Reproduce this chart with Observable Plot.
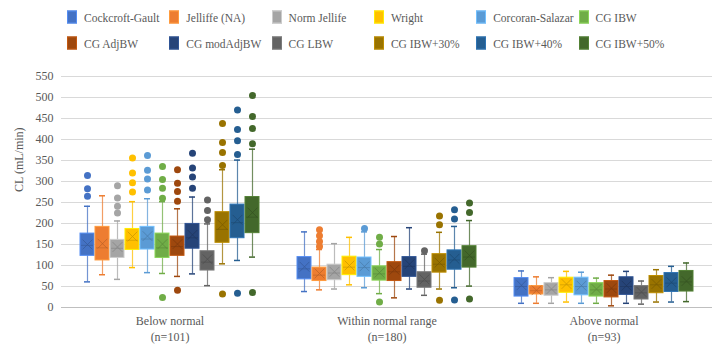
<!DOCTYPE html>
<html>
<head>
<meta charset="utf-8">
<script src="https://cdn.jsdelivr.net/npm/d3@7"></script>
<script src="https://cdn.jsdelivr.net/npm/@observablehq/plot@0.6"></script>
<style>
  body { margin: 0; background: white; font-family: 'Liberation Serif', 'Times New Roman', serif; }
  #legend { position: relative; width: 725px; height: 58px; }
  .item { position: absolute; display: flex; align-items: center; font-size: 11.5px; color: #595959; white-space: nowrap; transform: translateY(-50%); }
  .sw { width: 10px; height: 13px; margin-right: 7px; box-sizing: border-box; }
</style>
</head>
<body>
<div id="legend"></div>
<div id="chart"></div>
<script>
const series = ["Cockcroft-Gault","Jelliffe (NA)","Norm Jellife","Wright","Corcoran-Salazar","CG IBW","CG AdjBW","CG modAdjBW","CG LBW","CG IBW+30%","CG IBW+40%","CG IBW+50%"];
const colors = ["#4472C4","#ED7D31","#A5A5A5","#FFC000","#5B9BD5","#70AD47","#9E480E","#264478","#636363","#997300","#255E91","#43682B"];
const groups = ["Below normal","Within normal range","Above normal"];
const groupN = ["(n=101)","(n=180)","(n=93)"];
const yTicks = [0,50,100,150,200,250,300,350,400,450,500,550];

// Below normal
const belowLow    = [61, 78, 67, 95, 83, 81, 74, 80, 52, 104, 112, 120];
const belowQ1     = [123, 112, 118, 137, 138, 118, 123, 140, 88, 154, 165, 177];
const belowMedian = [148, 142, 141, 160, 163, 142, 145, 166, 108, 186, 202, 215];
const belowMean   = [150, 152, 144, 169, 170, 151, 151, 173, 115, 197, 209, 226];
const belowQ3     = [176, 192, 161, 187, 192, 176, 169, 199, 134, 227, 245, 263];
const belowHigh   = [241, 266, 206, 252, 259, 252, 235, 263, 199, 328, 351, 377];
const belowOut    = [[314,283,265],[],[290,261,241,225],[356,320,297,275],[362,327,306,280],[336,305,284,260,24],[328,296,276,253,41],[367,332,311,284],[256,231,209],[438,393,369,338,32],[470,424,397,364,34],[505,455,426,390,36]];

// Within normal range
const withinLow    = [38, 42, 44, 54, 47, 33, 23, 44, 29, 44, 47, 51];
const withinQ1     = [67, 63, 65, 77, 73, 64, 63, 73, 47, 83, 90, 95];
const withinMedian = [92, 77, 82, 96, 95, 80, 85, 98, 63, 103, 113, 120];
const withinMean   = [97, 81, 85, 100, 98, 83, 90, 103, 67, 107, 116, 124];
const withinQ3     = [120, 95, 102, 121, 119, 98, 108, 120, 84, 127, 136, 146];
const withinHigh   = [180, 138, 152, 167, 180, 138, 169, 190, 127, 179, 193, 207];
const withinOut    = [[],[185,171,157,145],[],[],[188],[167,151,13],[],[],[135],[218,197,17],[233,211,18],[249,226,20]];

// Above normal
const aboveLow    = [10, 10, 10, 13, 10, 10, 4, 10, 8, 13, 13, 14];
const aboveQ1     = [26, 31, 28, 35, 29, 26, 24, 30, 19, 34, 37, 38];
const aboveMedian = [50, 40, 42, 54, 50, 42, 44, 50, 35, 54, 58, 61];
const aboveMean   = [53, 41, 44, 56, 52, 44, 46, 52, 37, 56, 60, 63];
const aboveQ3     = [70, 51, 58, 71, 71, 58, 63, 72, 51, 75, 82, 87];
const aboveHigh   = [87, 73, 71, 86, 84, 70, 77, 86, 63, 90, 98, 106];
const aboveOut    = [[],[],[],[],[],[],[],[],[],[],[],[]];

const lows = [belowLow, withinLow, aboveLow];
const q1s = [belowQ1, withinQ1, aboveQ1];
const meds = [belowMedian, withinMedian, aboveMedian];
const means = [belowMean, withinMean, aboveMean];
const q3s = [belowQ3, withinQ3, aboveQ3];
const highs = [belowHigh, withinHigh, aboveHigh];
const outs = [belowOut, withinOut, aboveOut];

const dark = c => d3.color(c).darker(0.7).formatHex();
const light = c => d3.color(c).brighter(0.6).formatHex();

const rows = [];
const outRows = [];
groups.forEach((g, gi) => series.forEach((s, si) => {
  rows.push({group: g, series: s, color: colors[si], low: lows[gi][si], q1: q1s[gi][si], median: meds[gi][si], mean: means[gi][si], q3: q3s[gi][si], high: highs[gi][si]});
  outs[gi][si].forEach(v => outRows.push({group: g, series: s, color: colors[si], value: v}));
}));

// Legend
const legend = document.getElementById("legend");
series.forEach((s, i) => {
  const row = Math.floor(i / 6), col = i % 6;
  const el = document.createElement("div");
  el.className = "item";
  el.style.left = (67 + col * 102.3) + "px";
  el.style.top = (17 + row * 26) + "px";
  el.innerHTML = `<span class="sw" style="background:${colors[i]};border:1px solid ${light(colors[i])}"></span><span>${s}</span>`;
  legend.appendChild(el);
});

const chart = Plot.plot({
  width: 725,
  height: 291,
  marginTop: 18,
  marginBottom: 42,
  marginLeft: 60,
  marginRight: 12,
  style: {fontFamily: "'Liberation Serif', 'Times New Roman', serif", fontSize: "12px", color: "#595959", background: "white"},
  fx: {domain: groups, padding: 0, axis: null},
  x: {domain: series, paddingInner: 0.08, paddingOuter: 1.2, axis: null},
  y: {domain: [0, 550], ticks: yTicks, tickSize: 0, tickPadding: 8, label: null},
  marks: [
    Plot.ruleY(yTicks.filter(t => t > 0), {stroke: "#d9d9d9", strokeWidth: 1}),
    Plot.ruleY([0], {stroke: "#bfbfbf", strokeWidth: 1}),
    Plot.ruleX(rows, {fx: "group", x: "series", y1: "low", y2: "high", stroke: "color", strokeOpacity: 0.75, strokeWidth: 1.2}),
    Plot.tickY(rows, {fx: "group", x: "series", y: "low", stroke: "color", strokeWidth: 1.5, insetLeft: 4, insetRight: 4}),
    Plot.tickY(rows, {fx: "group", x: "series", y: "high", stroke: "color", strokeWidth: 1.5, insetLeft: 4, insetRight: 4}),
    Plot.barY(rows, {fx: "group", x: "series", y1: "q1", y2: "q3", fill: "color", stroke: d => light(d.color), strokeWidth: 1}),
    Plot.tickY(rows, {fx: "group", x: "series", y: "median", stroke: d => dark(d.color), strokeWidth: 1, strokeOpacity: 0.6, insetLeft: 1, insetRight: 1}),
    Plot.dot(rows, {fx: "group", x: "series", y: "mean", symbol: "times", r: 4.5, stroke: d => dark(d.color), strokeWidth: 1, strokeOpacity: 0.7}),
    Plot.dot(outRows, {fx: "group", x: "series", y: "value", r: 3.5, fill: "color", stroke: "none"}),
    Plot.text(groups, {fx: d => d, text: d => d, frameAnchor: "bottom", dy: 17, fontSize: 12, fill: "#595959"}),
    Plot.text(groups, {fx: d => d, text: (d, i) => groupN[i], frameAnchor: "bottom", dy: 33, fontSize: 12, fill: "#595959"}),
    Plot.text([groups[0]], {fx: d => d, text: () => "CL (mL/min)", frameAnchor: "left", rotate: -90, dx: -42, fontSize: 12, fill: "#595959"})
  ]
});
document.getElementById("chart").appendChild(chart);
</script>
</body>
</html>
